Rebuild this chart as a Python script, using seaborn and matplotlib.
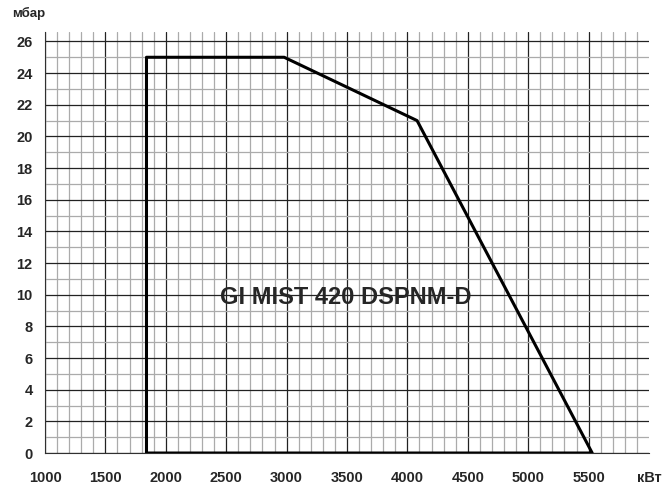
import matplotlib
matplotlib.use("Agg")
import matplotlib.pyplot as plt
import seaborn as sns
import pandas as pd
from matplotlib.ticker import MultipleLocator

# working field outline (kW, mbar)
power_kw = [1840, 1840, 2980, 4080, 5530, 1840]
pressure_mbar = [0, 25, 25, 21, 0, 0]

x_ticks = [1000, 1500, 2000, 2500, 3000, 3500, 4000, 4500, 5000, 5500, 6000]
x_labels = ["1000", "1500", "2000", "2500", "3000", "3500", "4000", "4500", "5000", "5500", "кВт"]
y_ticks = [0, 2, 4, 6, 8, 10, 12, 14, 16, 18, 20, 22, 24, 26]

model_name = "GI MIST 420 DSPNM-D"

sns.set_style("white")
plt.rcParams["font.family"] = ["Liberation Sans", "DejaVu Sans"]

fig = plt.figure(figsize=(6.67, 4.84), dpi=100)
ax = fig.add_axes([0.0675, 0.064, 0.9055, 0.870])

df = pd.DataFrame({"kW": power_kw, "mbar": pressure_mbar})
sns.lineplot(data=df, x="kW", y="mbar", sort=False, estimator=None,
             color="black", linewidth=2.2, ax=ax, zorder=5)

ax.set_xlim(1000, 6000)
ax.set_ylim(0, 26.6)

ax.xaxis.set_minor_locator(MultipleLocator(100))
ax.yaxis.set_minor_locator(MultipleLocator(1))
ax.set_xticks(x_ticks)
ax.set_xticklabels(x_labels, fontweight="bold", fontsize=10.5)
ax.set_yticks(y_ticks)
ax.set_yticklabels([str(v) for v in y_ticks], fontweight="bold", fontsize=10.5)

ax.grid(which="minor", color="#ababab", linewidth=0.9, zorder=1)
ax.grid(which="major", color="#222222", linewidth=0.9, zorder=2)
ax.set_axisbelow(True)

for s in ["top", "right"]:
    ax.spines[s].set_visible(False)
ax.spines["left"].set_color("#303030")
ax.spines["bottom"].set_color("#303030")
ax.tick_params(axis="both", which="major", length=4, width=1, color="#303030")
ax.tick_params(axis="x", which="major", pad=9)
ax.tick_params(axis="y", which="major", pad=5)
ax.tick_params(axis="both", which="minor", length=0)
# no tick mark under the unit label
ax.xaxis.get_major_ticks()[-1].tick1line.set_visible(False)
ax.xaxis.get_major_ticks()[-1].gridline.set_visible(False)

ax.set_xlabel("")
ax.set_ylabel("")

ax.text(3490, 9.8, model_name, ha="center", va="center",
        fontsize=17, fontweight="bold", zorder=6)
fig.text(0.018, 0.972, "мбар", ha="left", va="center", fontsize=9.5, fontweight="bold")

fig.savefig("out.png", dpi=100)
